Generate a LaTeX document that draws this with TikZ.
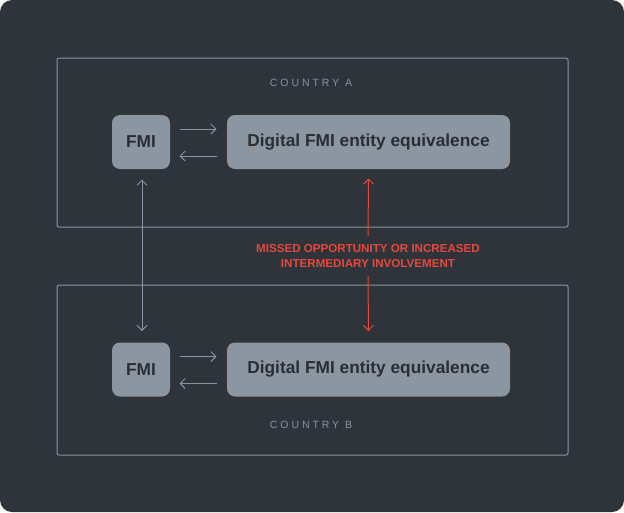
\documentclass[tikz,border=0pt]{standalone}
\usepackage{fontspec}
\setmainfont{Liberation Sans}
\usetikzlibrary{arrows.meta, positioning}
\definecolor{bgdark}{HTML}{2F333A}
\definecolor{linegray}{HTML}{8A949E}
\definecolor{boxgray}{HTML}{8B96A1}
\definecolor{textdark}{HTML}{2A2E33}
\definecolor{warnred}{HTML}{E5483C}
\tikzset{every picture/.style={line width=1pt},
  frame/.style={draw=linegray, rounded corners=2pt},
  entity/.style={fill=boxgray, rounded corners=8pt, minimum height=54pt, text=textdark,
    font=\fontsize{17.3}{20}\selectfont\bfseries, inner sep=0pt},
  countrylbl/.style={text=linegray, font=\fontsize{10.5}{12}\selectfont\addfontfeatures{LetterSpace=28}},
  link/.style={draw=linegray, -{Straight Barb[length=5pt,width=10pt]}},
  dlink/.style={draw=linegray, {Straight Barb[length=5pt,width=10pt]}-{Straight Barb[length=5pt,width=10pt]}},
  gap/.style={draw=warnred, -{Straight Barb[length=5pt,width=10pt]}}}

\begin{document}
\begin{tikzpicture}[x=1pt,y=1pt,yscale=-1,xscale=1]
    \fill[white] (0,0) rectangle (624,512);
    \fill[bgdark, rounded corners=12pt] (0,0) rectangle (624,512);
    % country frames
    \draw[frame] (57,58) rectangle (568,227);
    \draw[frame] (57,285) rectangle (568,455);
    \node[countrylbl] (ctyA) at (311,83) {COUNTRY A};
    \node[countrylbl] (ctyB) at (311,425) {COUNTRY B};
    % entities
    \node[entity, minimum width=58pt] (fmiA) at (141,142) {FMI};
    \node[entity, minimum width=283pt] (digA) at (368.5,142) {Digital FMI entity equivalence};
    \node[entity, minimum width=58pt] (fmiB) at (141,369.5) {FMI};
    \node[entity, minimum width=283pt] (digB) at (368.5,369.5) {Digital FMI entity equivalence};
    \draw[link] ([xshift=9pt,yshift=-13pt]fmiA.east) -- ([xshift=-10pt,yshift=-13pt]digA.west);
    \draw[link] ([xshift=-10pt,yshift=14pt]digA.west) -- ([xshift=9pt,yshift=14pt]fmiA.east);
    \draw[link] ([xshift=9pt,yshift=-13pt]fmiB.east) -- ([xshift=-10pt,yshift=-13pt]digB.west);
    \draw[link] ([xshift=-10pt,yshift=14pt]digB.west) -- ([xshift=9pt,yshift=14pt]fmiB.east);
    \draw[dlink] ([xshift=1pt,yshift=10pt]fmiA.south) -- ([xshift=1pt,yshift=-11pt]fmiB.north);
    % missed opportunity
    \node[text=warnred, align=center, font=\fontsize{11.6}{15}\selectfont\bfseries, inner sep=0pt] (missed) at (368,256)
      {MISSED OPPORTUNITY OR INCREASED\\INTERMEDIARY INVOLVEMENT};
    \draw[gap] ([yshift=-8pt]missed.north) -- ([yshift=9pt]digA.south);
    \draw[gap] ([yshift=8pt]missed.south) -- ([yshift=-11pt]digB.north);
\end{tikzpicture}
\end{document}
